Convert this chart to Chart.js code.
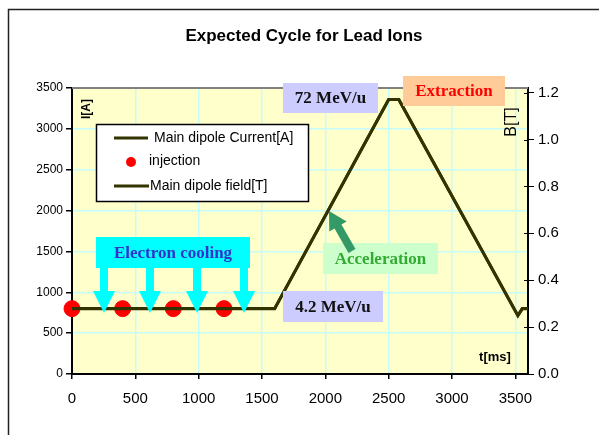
<!DOCTYPE html>
<html>
<head>
<meta charset="utf-8">
<style>
  html, body { margin: 0; padding: 0; background: #fff; }
  #wrap { position: absolute; left: 0; top: 0; width: 599px; height: 435px; }
</style>
<script src="https://cdn.jsdelivr.net/npm/chart.js@4/dist/chart.umd.min.js"></script>
</head>
<body>
<div id="wrap"><canvas id="cycleChart"></canvas></div>
<script>
// cycle
const timeMs = [0, 1600, 2500, 2580, 3520, 3555, 3600];
const currentA = [800, 800, 3360, 3360, 715, 800, 800];
const fieldT = [0.279, 0.279, 1.171, 1.171, 0.249, 0.279, 0.279];
const injectionMs = [0, 400, 800, 1200];
const injectionA = [800, 800, 800, 800];

const xTicks = [0, 500, 1000, 1500, 2000, 2500, 3000, 3500];
const iTicks = [0, 500, 1000, 1500, 2000, 2500, 3000, 3500];
const bTicks = [0, 0.2, 0.4, 0.6, 0.8, 1.0, 1.2];

const lineColor = '#333300';
const gridColor = '#c6fcfc';

function setTicks(list) {
	return scale => {
		scale.ticks = list.map(v => ({ value: v }));
	};
}

function box(ctx, x, y, w, h, fill, text, color) {
	ctx.fillStyle = fill;
	ctx.fillRect(x, y, w, h);
	ctx.fillStyle = color;
	ctx.font = 'bold 17px "Liberation Serif", "Times New Roman", serif';
	ctx.textAlign = 'center';
	ctx.textBaseline = 'middle';
	ctx.fillText(text, x + w / 2, y + h / 2 + 1);
}

const extras = {
	id: 'extras',
	beforeDraw(chart) {
		const { ctx, chartArea: a } = chart;
		ctx.save();
		ctx.fillStyle = '#ffffcc';
		ctx.fillRect(a.left, a.top, a.right - a.left, a.bottom - a.top);
		ctx.restore();
	},
	afterDraw(chart) {
		const { ctx, chartArea: a } = chart;
		ctx.save();

		// outer frame
		ctx.strokeStyle = '#222';
		ctx.lineWidth = 1.5;
		ctx.beginPath();
		ctx.moveTo(8.5, 435);
		ctx.lineTo(8.5, 9.5);
		ctx.lineTo(599, 9.5);
		ctx.stroke();

		// top border of plot
		ctx.strokeStyle = '#808080';
		ctx.lineWidth = 2;
		ctx.beginPath();
		ctx.moveTo(a.left, a.top);
		ctx.lineTo(a.right, a.top);
		ctx.stroke();

		// inner ticks on right axis
		const y1 = chart.scales.y1;
		ctx.strokeStyle = '#000';
		ctx.lineWidth = 1;
		y1.ticks.forEach(t => {
			const py = Math.round(y1.getPixelForValue(t.value)) + 0.5;
			ctx.beginPath();
			ctx.moveTo(a.right - 4, py);
			ctx.lineTo(a.right, py);
			ctx.stroke();
		});

		// title
		ctx.fillStyle = '#000';
		ctx.font = 'bold 17px "Liberation Sans", Arial, sans-serif';
		ctx.textAlign = 'center';
		ctx.textBaseline = 'middle';
		ctx.fillText('Expected Cycle for Lead Ions', 304, 36);

		// axis titles
		ctx.save();
		ctx.translate(87, 109);
		ctx.rotate(-Math.PI / 2);
		ctx.font = 'bold 12px "Liberation Sans", Arial, sans-serif';
		ctx.fillText('I[A]', 0, 0);
		ctx.restore();

		ctx.save();
		ctx.translate(512, 122);
		ctx.rotate(-Math.PI / 2);
		ctx.font = '16px "Liberation Sans", Arial, sans-serif';
		ctx.fillText('B[T]', 0, 0);
		ctx.restore();

		ctx.font = 'bold 13px "Liberation Sans", Arial, sans-serif';
		ctx.fillText('t[ms]', 495, 357);

		// electron cooling box with arrows
		ctx.fillStyle = '#00ffff';
		[104, 150, 197, 244].forEach(cx => {
			ctx.fillRect(cx - 4, 266, 8, 26);
			ctx.beginPath();
			ctx.moveTo(cx - 11, 291);
			ctx.lineTo(cx + 11, 291);
			ctx.lineTo(cx, 313);
			ctx.closePath();
			ctx.fill();
		});
		box(ctx, 96, 237, 154, 31, '#00ffff', 'Electron cooling', '#3333cc');

		box(ctx, 283, 83, 95, 30, '#ccccff', '72 MeV/u', '#111');
		box(ctx, 403, 76, 102, 30, '#ffcc99', 'Extraction', '#ff0000');
		box(ctx, 283, 291, 100, 31, '#ccccff', '4.2 MeV/u', '#111');
		box(ctx, 323, 243, 115, 31, '#ccffcc', 'Acceleration', '#33aa33');

		// acceleration arrow
		const tip = [329, 211], tail = [352, 251];
		const dx = tail[0] - tip[0], dy = tail[1] - tip[1];
		const len = Math.hypot(dx, dy);
		const ux = dx / len, uy = dy / len;
		const nx = -uy, ny = ux;
		const bx = tip[0] + ux * 18, by = tip[1] + uy * 18;
		ctx.fillStyle = '#339966';
		ctx.beginPath();
		ctx.moveTo(tip[0], tip[1]);
		ctx.lineTo(bx + nx * 10, by + ny * 10);
		ctx.lineTo(bx + nx * 4, by + ny * 4);
		ctx.lineTo(tail[0] + nx * 4, tail[1] + ny * 4);
		ctx.lineTo(tail[0] - nx * 4, tail[1] - ny * 4);
		ctx.lineTo(bx - nx * 4, by - ny * 4);
		ctx.lineTo(bx - nx * 10, by - ny * 10);
		ctx.closePath();
		ctx.fill();

		// legend
		ctx.fillStyle = '#fff';
		ctx.fillRect(96, 124, 213, 78);
		ctx.strokeStyle = '#000';
		ctx.lineWidth = 1.5;
		ctx.strokeRect(96.5, 124.5, 212, 77);
		ctx.strokeStyle = lineColor;
		ctx.lineWidth = 3;
		ctx.beginPath();
		ctx.moveTo(114, 138);
		ctx.lineTo(148, 138);
		ctx.moveTo(114, 186);
		ctx.lineTo(149, 186);
		ctx.stroke();
		ctx.fillStyle = '#ff0000';
		ctx.beginPath();
		ctx.arc(131, 162, 5, 0, Math.PI * 2);
		ctx.fill();
		ctx.fillStyle = '#000';
		ctx.font = '14px "Liberation Sans", Arial, sans-serif';
		ctx.textAlign = 'left';
		ctx.fillText('Main dipole Current[A]', 154, 138);
		ctx.fillText('injection', 149, 161);
		ctx.fillText('Main dipole field[T]', 150, 186);

		ctx.restore();
	}
};

const ctx = document.getElementById('cycleChart').getContext('2d');
const chart = new Chart(ctx, {
	type: 'scatter',
	data: {
		datasets: [
			{
				label: 'injection',
				data: injectionMs.map((t, i) => ({ x: t, y: injectionA[i] })),
				backgroundColor: '#ff0000',
				borderColor: '#ff0000',
				pointRadius: 8,
				pointHoverRadius: 8,
				clip: false,
				yAxisID: 'y',
				order: 3,
			},
			{
				label: 'Main dipole Current[A]',
				data: timeMs.map((t, i) => ({ x: t, y: currentA[i] })),
				showLine: true,
				borderColor: lineColor,
				borderWidth: 3,
				pointRadius: 0,
				yAxisID: 'y',
				order: 1,
			},
			{
				label: 'Main dipole field[T]',
				data: timeMs.map((t, i) => ({ x: t, y: fieldT[i] })),
				showLine: true,
				borderColor: lineColor,
				borderWidth: 3,
				pointRadius: 0,
				yAxisID: 'y1',
				order: 2,
			},
		],
	},
	options: {
		responsive: true,
		maintainAspectRatio: false,
		animation: false,
		layout: { padding: { left: 0, right: 0, top: 88, bottom: 31 } },
		plugins: {
			legend: { display: false },
			title: { display: false },
			tooltip: { enabled: false },
		},
		scales: {
			x: {
				type: 'linear',
				min: 0,
				max: 3600,
				afterBuildTicks: setTicks(xTicks),
				afterFit: s => { s.height = 30; },
				ticks: {
					autoSkip: false,
					maxRotation: 0,
					color: '#000',
					padding: 11,
					callback: v => String(v),
					font: { family: '"Liberation Sans", Arial, sans-serif', size: 15 },
				},
				grid: { color: gridColor, tickColor: '#000', tickLength: 5, lineWidth: 1.5 },
				border: { color: '#000', width: 2 },
			},
			y: {
				position: 'left',
				min: 0,
				max: 3500,
				afterBuildTicks: setTicks(iTicks),
				afterFit: s => { s.width = 72; },
				ticks: {
					autoSkip: false,
					color: '#000',
					padding: 3,
					callback: v => String(v),
					font: { family: '"Liberation Sans", Arial, sans-serif', size: 12 },
				},
				grid: { color: gridColor, tickColor: '#000', tickLength: 6, lineWidth: 1.5 },
				border: { color: '#000', width: 2 },
			},
			y1: {
				position: 'right',
				min: 0,
				max: 1.22,
				afterBuildTicks: setTicks(bTicks),
				afterFit: s => { s.width = 71; },
				ticks: {
					autoSkip: false,
					color: '#000',
					padding: 4,
					callback: v => v.toFixed(1),
					font: { family: '"Liberation Sans", Arial, sans-serif', size: 15 },
				},
				grid: { drawOnChartArea: false, tickColor: '#000', tickLength: 6 },
				border: { color: '#000', width: 2 },
			},
		},
	},
	plugins: [extras],
});
</script>
</body>
</html>
